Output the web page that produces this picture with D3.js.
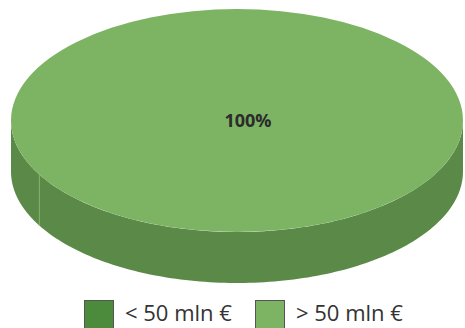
<!DOCTYPE html>
<html>
<head>
<meta charset="utf-8">
<script src="https://cdn.jsdelivr.net/npm/d3@7"></script>
<style>
html,body{margin:0;padding:0;background:#fff;}
svg{display:block;}
</style>
</head>
<body>
<svg id="chart" width="465" height="328"></svg>
<script>
const categories = ["< 50 mln €", "> 50 mln €"];
const values = [0, 100];
const labels = ["0%", "100%"];
const topColors = ["#4b8b3b", "#7db463"];
const sideColors = ["#3f7431", "#5b8a48"];

const svg = d3.select("#chart");
const cx = 237, cy = 120.5, rx = 226, ry = 111.5, depth = 51;
const startAngle = 241 * Math.PI / 180;

const pie = d3.pie().sort(null).value(d => d)
  .startAngle(startAngle).endAngle(startAngle + 2 * Math.PI);
const arcs = pie(values);

const px = a => cx + rx * Math.sin(a);
const py = (a, h) => cy - ry * Math.cos(a) + (h || 0);

function topPath(d) {
  const a0 = d.startAngle, a1 = d.endAngle;
  if (a1 - a0 >= 2 * Math.PI - 1e-6) {
    return `M${cx - rx},${cy} A${rx},${ry} 0 1 1 ${cx + rx},${cy} A${rx},${ry} 0 1 1 ${cx - rx},${cy} Z`;
  }
  const large = (a1 - a0) > Math.PI ? 1 : 0;
  return `M${cx},${cy} L${px(a0)},${py(a0)} A${rx},${ry} 0 ${large} 1 ${px(a1)},${py(a1)} Z`;
}

const g = svg.append("g");

function sidePath(a0, a1) {
  const steps = 120;
  const pts = [];
  for (let i = 0; i <= steps; i++) {
    const a = a0 + (a1 - a0) * i / steps;
    pts.push([px(a), py(a)]);
  }
  const bottom = pts.slice().reverse().map(p => [p[0], p[1] + depth]);
  return "M" + pts.concat(bottom).map(p => p.join(",")).join("L") + "Z";
}

arcs.forEach((d, i) => {
  if (d.endAngle - d.startAngle <= 0) return;
  [0, 2 * Math.PI, -2 * Math.PI].forEach(off => {
    const lo = Math.max(d.startAngle, Math.PI / 2 + off);
    const hi = Math.min(d.endAngle, 3 * Math.PI / 2 + off);
    if (hi > lo) {
      g.append("path").attr("d", sidePath(lo, hi)).attr("fill", sideColors[i]);
    }
  });
});

arcs.forEach(d => {
  let a = d.startAngle % (2 * Math.PI);
  if (a < 0) a += 2 * Math.PI;
  if (a > Math.PI / 2 && a < 3 * Math.PI / 2) {
    g.append("line")
      .attr("x1", px(a)).attr("y1", py(a))
      .attr("x2", px(a)).attr("y2", py(a, depth))
      .attr("stroke", "#7db463").attr("stroke-width", 0.8).attr("opacity", 0.7);
  }
});

arcs.forEach((d, i) => {
  if (d.endAngle - d.startAngle <= 0) return;
  g.append("path").attr("d", topPath(d)).attr("fill", topColors[i]);
});

arcs.forEach((d, i) => {
  if (d.value <= 0) return;
  g.append("text")
    .attr("x", cx + 11).attr("y", cy + 6.5)
    .attr("text-anchor", "middle")
    .attr("font-family", "'Open Sans', sans-serif")
    .attr("font-weight", "bold")
    .attr("font-size", 18)
    .attr("fill", "#2b2b2b")
    .text(labels[i]);
});

const legend = svg.append("g");
const legendX = [84, 255];
categories.forEach((c, i) => {
  const lg = legend.append("g").attr("transform", `translate(${legendX[i]},300)`);
  lg.append("rect").attr("x", 0.5).attr("y", 0.5).attr("width", 29).attr("height", 29)
    .attr("fill", topColors[i]).attr("stroke", "#555").attr("stroke-width", 1);
  lg.append("text").attr("x", 41).attr("y", 21)
    .attr("font-family", "'Open Sans', sans-serif")
    .attr("font-size", 22)
    .attr("fill", "#333")
    .text(c);
});
</script>
</body>
</html>
